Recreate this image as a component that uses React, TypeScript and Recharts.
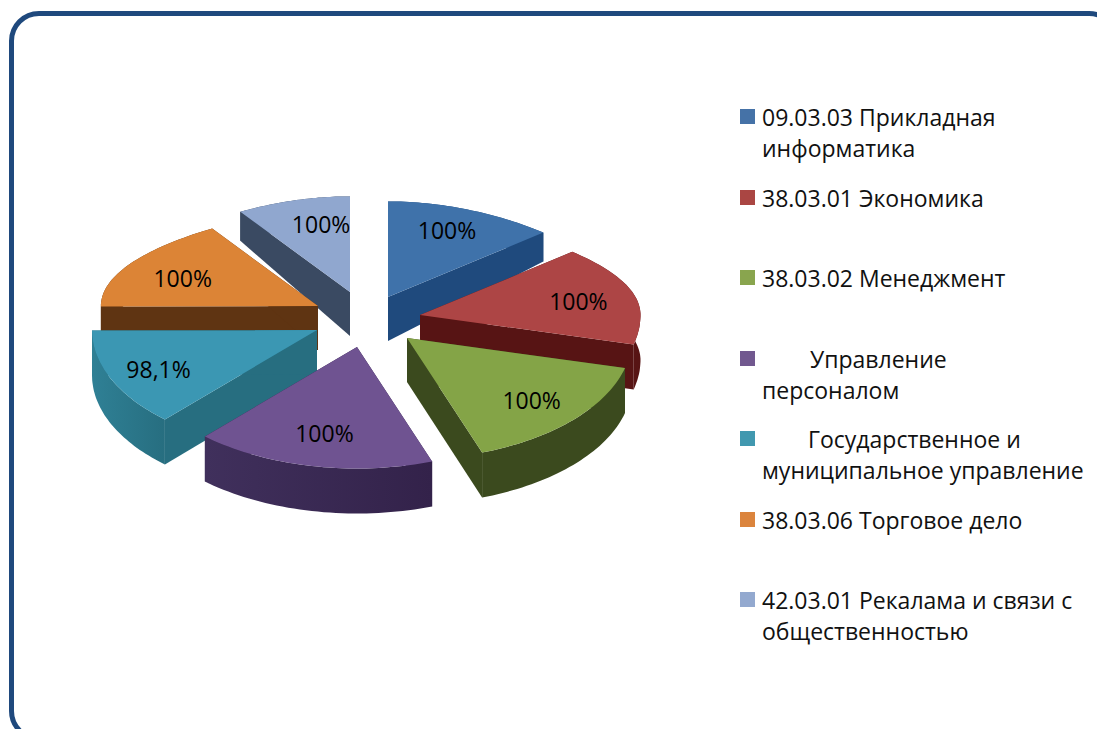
import React from "react"
import { PieChart, Pie, Legend } from "recharts"

const categories = [
  "09.03.03 Прикладная\nинформатика",
  "38.03.01 Экономика",
  "38.03.02 Менеджмент",
  "Управление\nперсоналом",
  "Государственное и\nмуниципальное управление",
  "38.03.06 Торговое дело",
  "42.03.01 Рекалама и связи с\nобщественностью",
]
const values = [100, 100, 100, 100, 98.1, 100, 100]
const valueLabels = ["100%", "100%", "100%", "100%", "98,1%", "100%", "100%"]

const topColors = ["#3f72aa", "#ad4545", "#84a447", "#6f5391", "#3b97b3", "#dc8436", "#90a7cf"]
const wallColors = ["#1f4a7d", "#571414", "#3b4a1e", "#40305c", "#2f8095", "#5f3412", "#3a4a62"]
const wallEndColors = ["#1f4a7d", "#571414", "#3b4a1e", "#33224a", "#276e80", "#5f3412", "#3a4a62"]
const legendColors = ["#4572a7", "#aa4643", "#89a54e", "#71588f", "#4198af", "#db843d", "#93a9cf"]
const legendIndent = [0, 0, 0, 48, 46, 0, 0]

// how far each slice is pulled out of the pie, in px
const explodeX = [28, 60, 47, -3, -43, -42, -10]
const explodeY = [-21, -3, 20, 29, 12, -12, -26]
const sliceScale = [1, 0.98, 1, 1, 1, 0.965, 1]
const labelRadius = [0.73, 0.7, 0.75, 0.72, 0.77, 0.7, 0.6]
const labelShiftX = [-2, 10, 0, 0, 0, -4, 5]
const labelShiftY = [-4, 2, 1, 0, 1, 2, -13]

// the 3D view squeezes the back of the pie: clockwise turn seen per 1/7 of the circle
const viewTurns = [0, 43.5, 104, 160, 222, 270, 331, 360]
// back slices first so the front ones cover them
const drawOrder = [6, 5, 0, 1, 2, 4, 3]

const tableData = categories.map((name, i) => ({ name, value: values[i] }))
const FONT = "'Open Sans', sans-serif"

const toViewAngle = (angle: number) => {
  const turn = Math.min(Math.max(90 - angle, 0), 360)
  const step = 360 / 7
  const k = Math.min(Math.floor(turn / step), 6)
  return 90 - (viewTurns[k] + ((turn - k * step) / step) * (viewTurns[k + 1] - viewTurns[k]))
}

const project = (angle: number, radius: number, fraction = 1) => {
  const rad = (toViewAngle(angle) * Math.PI) / 180
  const sin = Math.sin(rad)
  const ry = radius * (sin > 0 ? 0.385 + 0.04 * sin ** 4 : 0.54)
  return { x: radius * Math.cos(rad) * fraction, y: -ry * sin * fraction, sin }
}

const wallDepth = (sin: number) => 45 - 16 * Math.min(Math.max((sin - 0.2) / 0.5, 0), 1)

const toPath = (pts: number[][]) => "M" + pts.map((p) => `${p[0].toFixed(1)},${p[1].toFixed(1)}`).join("L") + "Z"

const makeSlice = (target: number) => (props: any) => {
  const { cx, cy, outerRadius, startAngle, endAngle, name } = props
  const index = categories.indexOf(name)
  if (index !== target) return <g />
  const ax = cx + explodeX[index]
  const ay = cy + explodeY[index]
  const radius = outerRadius * sliceScale[index]
  const arc: { x: number; y: number; d: number }[] = []
  for (let s = 0; s <= 40; s++) {
    const p = project(startAngle + ((endAngle - startAngle) * s) / 40, radius)
    arc.push({ x: ax + p.x, y: ay + p.y, d: wallDepth(p.sin) })
  }
  const first = arc[0]
  const last = arc[arc.length - 1]
  const apexDepth = 44
  const gradId = `wall-${index}`
  const mid = project((startAngle + endAngle) / 2, radius, labelRadius[index])
  return (
    <g>
      <defs>
        <linearGradient id={gradId} x1="0" x2="1" y1="0" y2="0">
          <stop offset="0%" stopColor={wallColors[index]} />
          <stop offset="100%" stopColor={wallEndColors[index]} />
        </linearGradient>
      </defs>
      <path
        d={toPath([[ax, ay], [first.x, first.y], [first.x, first.y + first.d], [ax, ay + apexDepth]])}
        fill={wallEndColors[index]}
      />
      <path
        d={toPath([[ax, ay], [last.x, last.y], [last.x, last.y + last.d], [ax, ay + apexDepth]])}
        fill={wallEndColors[index]}
      />
      <path
        d={toPath([...arc.map((p) => [p.x, p.y]), ...[...arc].reverse().map((p) => [p.x, p.y + p.d])])}
        fill={`url(#${gradId})`}
      />
      <path d={toPath([[ax, ay], ...arc.map((p) => [p.x, p.y])])} fill={topColors[index]} />
      <text
        x={ax + mid.x + labelShiftX[index]}
        y={ay + mid.y + labelShiftY[index]}
        textAnchor="middle"
        dominantBaseline="central"
        fontFamily={FONT}
        fontSize={23}
        fill="#000"
      >
        {valueLabels[index]}
      </text>
    </g>
  )
}

const renderLegend = () => (
  <div style={{ position: "relative", width: 357, height: 560, fontFamily: FONT, fontSize: 23, color: "#111" }}>
    {categories.map((name, i) => (
      <div key={name} style={{ position: "absolute", left: 0, top: i * 80.5 }}>
        <div style={{ position: "absolute", left: 0, top: 0, width: 15, height: 15, background: legendColors[i] }} />
        <div style={{ position: "absolute", left: 22, top: -7, lineHeight: "31px", whiteSpace: "pre" }}>
          <span style={{ paddingLeft: legendIndent[i] }}>{name}</span>
        </div>
      </div>
    ))}
  </div>
)

export default function App() {
  return (
    <div style={{ position: "absolute", left: 0, top: 0, width: 1097, height: 729, overflow: "hidden", background: "#fff" }}>
      <div
        style={{
          position: "absolute",
          left: 9,
          top: 11,
          width: 1110,
          height: 730,
          boxSizing: "border-box",
          border: "5px solid #1f497d",
          borderRadius: 30,
        }}
      />
      <PieChart
        width={1097}
        height={729}
        margin={{ top: 0, right: 0, bottom: 0, left: 0 }}
        style={{ position: "absolute", left: 0, top: 0 }}
      >
        {drawOrder.map((target) => (
          <Pie
            key={target}
            data={tableData}
            dataKey="value"
            nameKey="name"
            cx={360}
            cy={318}
            outerRadius={225}
            startAngle={90}
            endAngle={-270}
            stroke="none"
            legendType="none"
            shape={makeSlice(target)}
            isAnimationActive={false}
          />
        ))}
        <Legend
          content={renderLegend}
          wrapperStyle={{ position: "absolute", left: 740, top: 109, width: 357, height: 560 }}
        />
      </PieChart>
    </div>
  )
}
